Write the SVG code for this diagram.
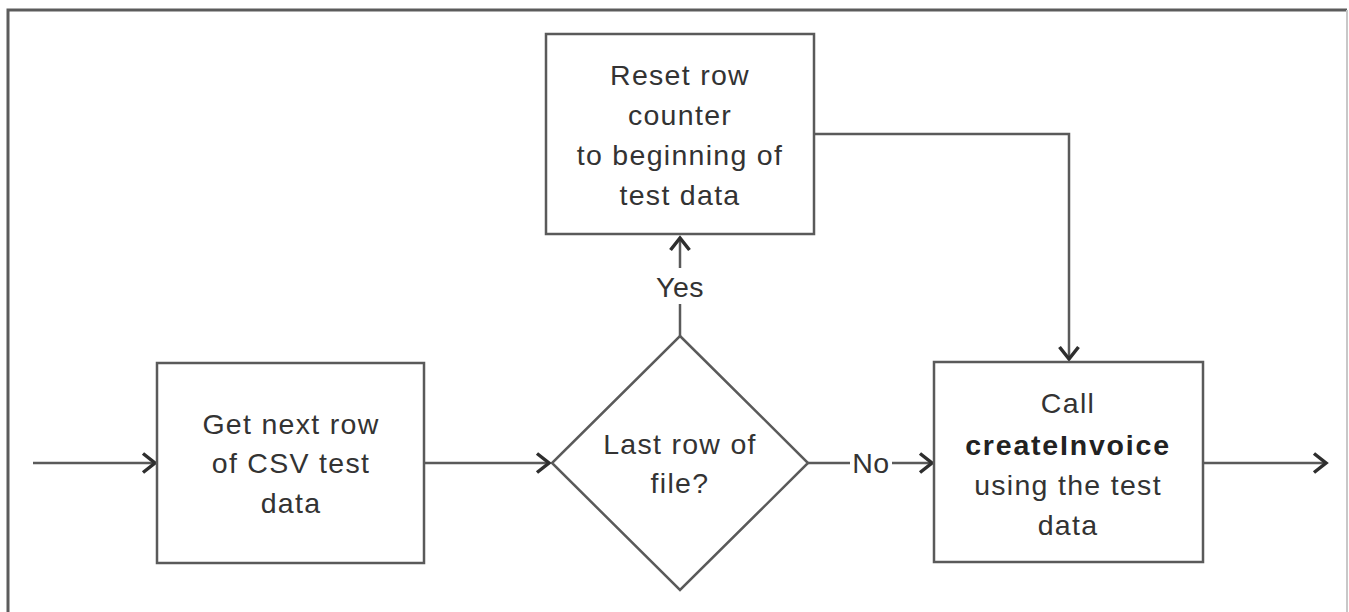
<svg xmlns="http://www.w3.org/2000/svg" width="1349" height="612" viewBox="0 0 1349 612">
  <style>
    .box { fill: #ffffff; stroke: #5a5a5a; stroke-width: 2.5; }
    .line { fill: none; stroke: #5a5a5a; stroke-width: 2.5; }
    .t { font-family: "Liberation Sans", Arial, sans-serif; font-size: 28.5px; fill: #333333; text-anchor: middle; letter-spacing: 1.3px; }
    .b { font-weight: bold; letter-spacing: 1.8px; fill: #222222; }
  </style>
  <defs>
    <marker id="arr" markerUnits="userSpaceOnUse" markerWidth="34" markerHeight="34" viewBox="-17 -17 34 34" refX="0" refY="0" orient="auto">
      <path d="M-12,-9.5 L0,0 L-12,9.5" fill="none" stroke="#2e2e2e" stroke-width="3.5" stroke-linejoin="miter"/>
    </marker>
  </defs>
  <rect x="0" y="0" width="1349" height="612" fill="#ffffff"/>
  <g id="frame">
    <path d="M8,612 V10 H1347" fill="none" stroke="#5c5c5c" stroke-width="3"/>
    <path d="M1347,10 V612" fill="none" stroke="#c8c8c8" stroke-width="2"/>
  </g>
  <g id="connectors">
    <path class="line" d="M33,463 H155" marker-end="url(#arr)"/>
    <path class="line" d="M424,463 H549" marker-end="url(#arr)"/>
    <path class="line" d="M680,336 V304"/>
    <path class="line" d="M680,268 V238" marker-end="url(#arr)"/>
    <path class="line" d="M814,134 H1069 V359" marker-end="url(#arr)"/>
    <path class="line" d="M808,463 H850"/>
    <path class="line" d="M892,463 H932" marker-end="url(#arr)"/>
    <path class="line" d="M1203,463 H1326" marker-end="url(#arr)"/>
    <text class="t" x="680" y="297" style="letter-spacing:0.5px">Yes</text>
    <text class="t" x="871" y="473" style="letter-spacing:0.5px">No</text>
  </g>
  <g id="get-next-row">
    <rect class="box" x="157" y="363" width="267" height="200"/>
    <text class="t" x="291" y="434">Get next row</text>
    <text class="t" x="291" y="473">of CSV test</text>
    <text class="t" x="291" y="513">data</text>
  </g>
  <g id="reset-row">
    <rect class="box" x="546" y="34" width="268" height="200"/>
    <text class="t" x="680" y="85">Reset row</text>
    <text class="t" x="680" y="125">counter</text>
    <text class="t" x="680" y="165">to beginning of</text>
    <text class="t" x="680" y="205">test data</text>
  </g>
  <g id="last-row">
    <polygon class="box" points="680,336 808,463 680,590 552,463"/>
    <text class="t" x="680" y="454">Last row of</text>
    <text class="t" x="680" y="493">file?</text>
  </g>
  <g id="create-invoice">
    <rect class="box" x="934" y="362" width="269" height="200"/>
    <text class="t" x="1068" y="413">Call</text>
    <text class="t b" x="1068" y="455">createInvoice</text>
    <text class="t" x="1068" y="495">using the test</text>
    <text class="t" x="1068" y="535">data</text>
  </g>
</svg>
